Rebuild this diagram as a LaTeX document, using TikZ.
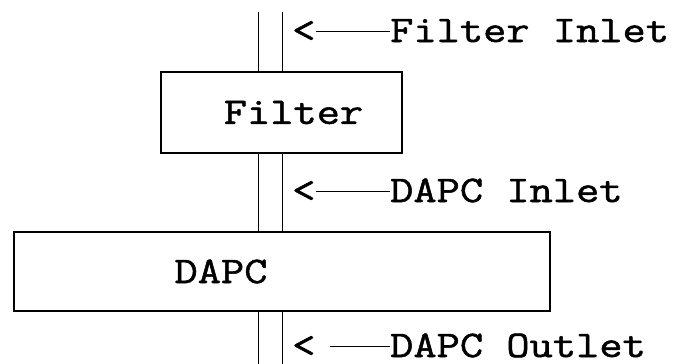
\documentclass[tikz,border=0pt]{standalone}
\usepackage{fontspec}
\newfontfamily\typewriter[FakeStretch=1.2,FakeBold=1.4]{Latin Modern Mono}
\tikzset{
  unit/.style={draw, line width=1.3pt, rectangle, inner sep=0pt, font=\typewriter\fontsize{37.6}{40}\selectfont},
  pipe/.style={line width=1pt},
  tag/.style={anchor=base west, inner sep=0pt, font=\typewriter\fontsize{37.6}{40}\selectfont},
  lead/.style={line width=1.1pt}
}
\begin{document}
\begin{tikzpicture}[x=1pt, y=-1pt]
  \useasboundingbox (0,0) rectangle (696,364);

  % process units
  \node[unit, minimum width=241pt, minimum height=81pt] (filter) at (281.5,112.5) {\hspace*{24pt}Filter};
  \node[unit, minimum width=536pt, minimum height=79pt] (dapc) at (282,271.5) {DAPC\hspace*{122pt}};

  % pipe walls
  \coordinate (tl) at (258,12);
  \coordinate (tr) at (282,12);
  \coordinate (bl) at (258,364);
  \coordinate (br) at (282,364);
  \draw[pipe] (tl) -- (tl |- filter.north);
  \draw[pipe] (tr) -- (tr |- filter.north);
  \draw[pipe] (tl |- filter.south) -- (tl |- dapc.north);
  \draw[pipe] (tr |- filter.south) -- (tr |- dapc.north);
  \draw[pipe] (bl |- dapc.south) -- (bl);
  \draw[pipe] (br |- dapc.south) -- (br);

  % sampling point labels
  \node[tag] (fi) at (390,42) {Filter Inlet};
  \node[tag] (fiarrow) at (292,42) {<};
  \draw[lead] (fiarrow.east) -- (fiarrow.east -| fi.west);

  \node[tag] (di) at (390,202) {DAPC Inlet};
  \node[tag] (diarrow) at (292,202) {<};
  \draw[lead] (diarrow.east) -- (diarrow.east -| di.west);

  \node[tag] (do) at (390,357) {DAPC Outlet};
  \node[tag] (doarrow) at (292,357) {<};
  \draw[lead] ([xshift=14pt]doarrow.east) -- (doarrow.east -| do.west);
\end{tikzpicture}
\end{document}
